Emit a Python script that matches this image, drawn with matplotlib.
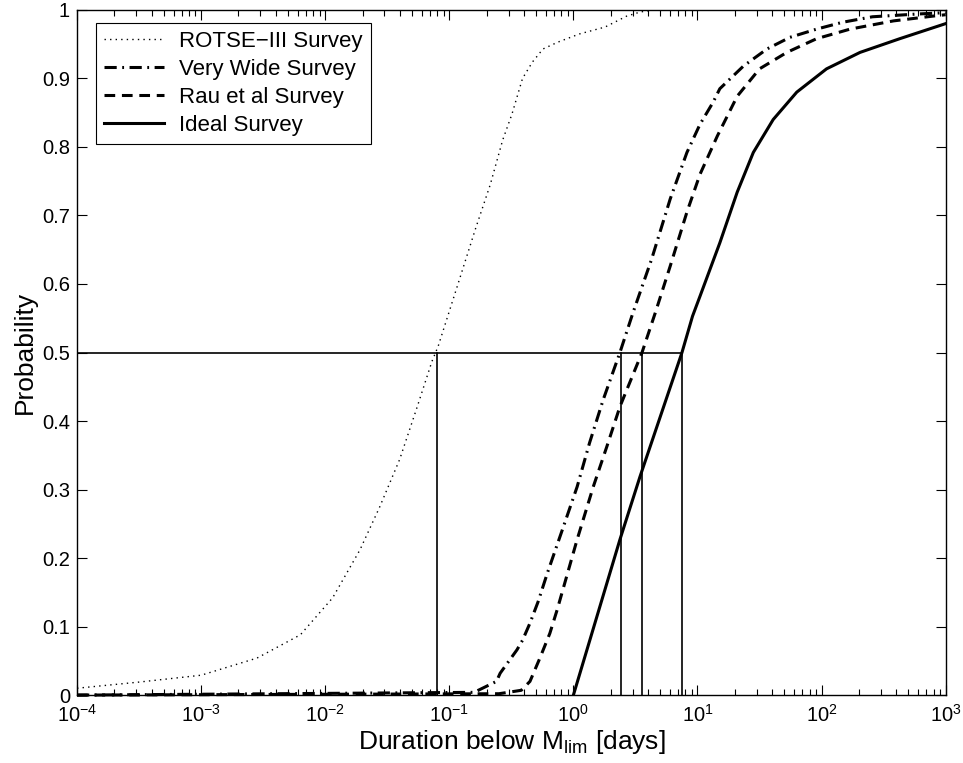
import numpy as np
import matplotlib
matplotlib.use("Agg")
import matplotlib.pyplot as plt
from matplotlib.ticker import FixedLocator

plt.rcParams["font.family"] = ["Liberation Sans", "DejaVu Sans"]
plt.rcParams["mathtext.fontset"] = "custom"
plt.rcParams["mathtext.rm"] = "Liberation Sans"
plt.rcParams["mathtext.it"] = "Liberation Sans:italic"

# Curves: log10(duration in days) and probability
rotse_logt = [-4.0, -3.5, -3.0, -2.55, -2.2, -1.94, -1.72, -1.56, -1.40, -1.26, -1.14,
              -1.09, -0.93, -0.79, -0.67, -0.57, -0.495, -0.41, -0.33, -0.245, -0.125,
              0.05, 0.255, 0.43, 0.54, 0.65, 3.0]
rotse_p = [0.010, 0.019, 0.029, 0.054, 0.088, 0.142, 0.212, 0.275, 0.344, 0.420, 0.487,
           0.509, 0.600, 0.680, 0.745, 0.810, 0.848, 0.900, 0.924, 0.943, 0.953,
           0.965, 0.975, 0.991, 0.997, 1.0, 1.0]

wide_logt = [-4.0, -0.8, -0.62, -0.59, -0.455, -0.41, -0.35, -0.285, -0.21, -0.08, 0.03,
             0.13, 0.24, 0.375, 0.48, 0.63, 0.78, 0.915, 1.02, 1.125, 1.18, 1.37, 1.56,
             1.745, 1.96, 2.17, 2.41, 2.77, 3.0]
wide_p = [0.0, 0.004, 0.020, 0.032, 0.066, 0.080, 0.105, 0.136, 0.178, 0.246, 0.304,
          0.368, 0.431, 0.500, 0.558, 0.636, 0.724, 0.792, 0.833, 0.865, 0.885, 0.918, 0.943,
          0.960, 0.972, 0.982, 0.990, 0.994, 0.996]

rau_logt = [-4.0, -0.6, -0.42, -0.35, -0.27, -0.19, -0.13, 0.03, 0.16, 0.27, 0.375,
            0.553, 0.66, 0.78, 0.915, 1.02, 1.16, 1.32, 1.50, 1.72, 1.96, 2.23, 2.58,
            2.90, 3.0]
rau_p = [0.0, 0.002, 0.007, 0.020, 0.054, 0.090, 0.125, 0.227, 0.304, 0.363, 0.421,
         0.500, 0.558, 0.626, 0.705, 0.760, 0.816, 0.874, 0.914, 0.938, 0.958, 0.972, 0.984,
         0.991, 0.993]

ideal_logt = [0.0, 0.375, 0.537, 0.875, 0.96, 1.02, 1.18, 1.32, 1.45, 1.61, 1.80, 2.04,
              2.31, 2.63, 3.0]
ideal_p = [0.0, 0.227, 0.319, 0.500, 0.553, 0.582, 0.660, 0.734, 0.792, 0.840, 0.880, 0.914,
           0.938, 0.958, 0.980]

# median durations (P = 0.5) marked by the thin guide lines
median_days = [0.079, 2.42, 3.57, 7.5]

fig = plt.figure(figsize=(9.63, 7.63), dpi=100)
ax = fig.add_axes([0.080, 0.089, 0.902, 0.898])

ax.plot(np.power(10.0, rotse_logt), rotse_p, color="k", lw=1.0,
        linestyle=(0, (1, 3)), label="ROTSE\u2212III Survey")
ax.plot(np.power(10.0, wide_logt), wide_p, color="k", lw=2.2,
        linestyle=(0, (4, 1.8, 0.6, 1.8)), label="Very Wide Survey", clip_on=False)
ax.plot(np.power(10.0, rau_logt), rau_p, color="k", lw=2.2,
        linestyle=(0, (3.5, 2.2)), label="Rau et al Survey", clip_on=False)
ax.plot(np.power(10.0, ideal_logt), ideal_p, color="k", lw=2.2,
        linestyle="-", label="Ideal Survey")

# guide lines at P = 0.5
ax.plot([1e-4, max(median_days)], [0.5, 0.5], color="k", lw=1.2)
for d in median_days:
    ax.plot([d, d], [0, 0.5], color="k", lw=1.2)

ax.set_xscale("log")
ax.set_xlim(1e-4, 1e3)
ax.set_ylim(0, 1)
ax.yaxis.set_major_locator(FixedLocator(np.arange(0, 1.01, 0.1)))
ax.set_yticklabels(["0", "0.1", "0.2", "0.3", "0.4", "0.5", "0.6", "0.7", "0.8", "0.9", "1"])

ax.tick_params(which="both", direction="in", top=True, right=True, labelsize=14.5)
ax.tick_params(which="major", length=7, width=0.8)
ax.tick_params(which="minor", length=4, width=0.8)
ax.tick_params(axis="x", pad=6)
ax.tick_params(axis="y", pad=5)
for s in ax.spines.values():
    s.set_linewidth(1.0)

ax.set_xlabel(r"Duration below M$_{\mathrm{lim}}$ [days]", fontsize=19, labelpad=2)
ax.set_ylabel("Probability", fontsize=19, labelpad=4)

leg = ax.legend(loc="upper left", bbox_to_anchor=(0.022, 0.981), borderaxespad=0,
                fontsize=16, handlelength=2.7, handletextpad=0.7, labelspacing=0.32,
                fancybox=False, framealpha=1, edgecolor="k", borderpad=0.35)
leg.get_frame().set_linewidth(0.8)

fig.savefig("out.png", dpi=100)
